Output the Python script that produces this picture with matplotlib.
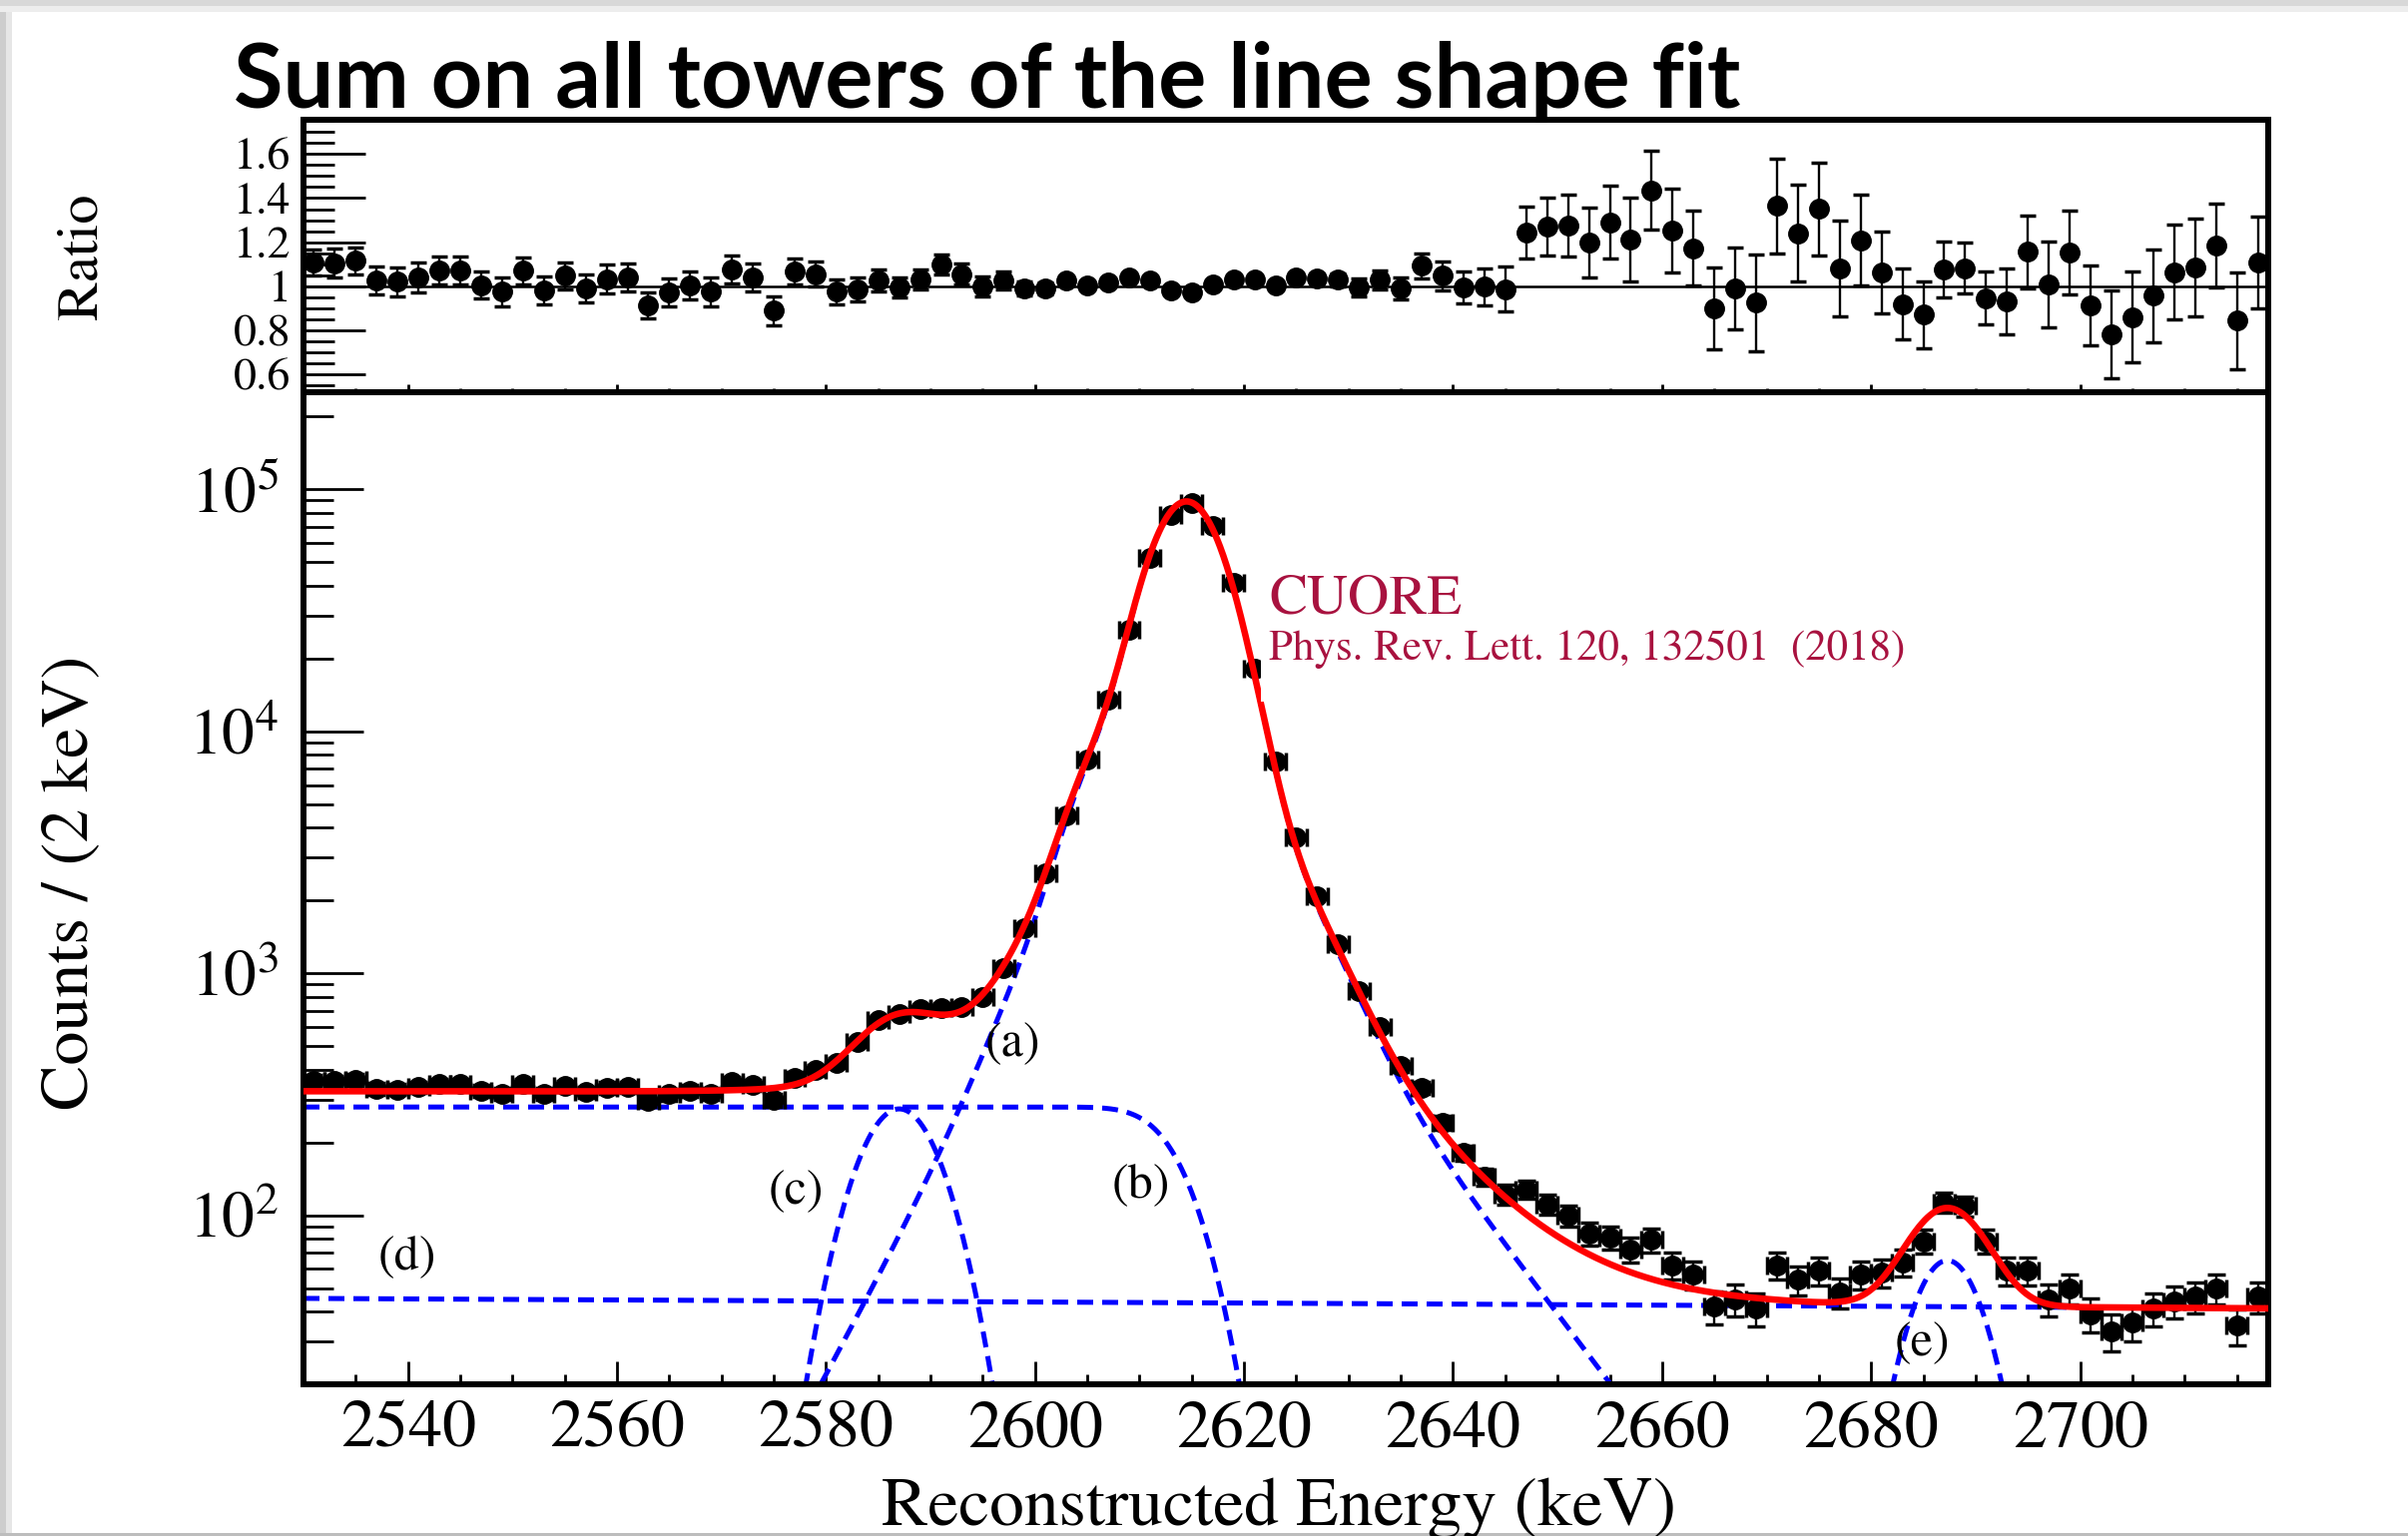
import math
import numpy as np
import matplotlib
matplotlib.use('Agg')
import matplotlib.pyplot as plt
from matplotlib.patches import Rectangle
from matplotlib.ticker import (FixedLocator, FixedFormatter, MultipleLocator,
                               LogLocator, FuncFormatter, NullFormatter)

plt.rcParams['font.family'] = 'STIXGeneral'
plt.rcParams['mathtext.fontset'] = 'stix'

# 2 keV bins, 2530 - 2718 keV
e_lo, e_hi, bin_w = 2530, 2718, 2
energy = np.arange(e_lo + bin_w / 2, e_hi, bin_w)

counts = [360, 359, 363, 333, 331, 338, 348, 348, 327, 317,
          348, 318, 341, 322, 336, 338, 297, 316, 326, 318,
          354, 344, 299, 370, 398, 425, 518, 639, 678, 708,
          720, 725, 800, 1055, 1530, 2580, 4510, 7680, 13520, 26400,
          52300, 78000, 87500, 70800, 41000, 18200, 7520, 3660, 2075, 1320,
          842, 597, 412, 336, 242, 181, 144, 122, 128, 111,
          100, 84, 81, 72, 79, 62, 57, 42, 45, 41,
          62, 54, 59, 48, 57, 58, 64, 78, 113, 109,
          78, 59, 59, 45, 50, 39, 33, 36, 41, 44,
          46, 50, 35, 46]

ratio = [1.108, 1.105, 1.116, 1.026, 1.020, 1.040, 1.070, 1.070, 1.006, 0.976,
         1.070, 0.980, 1.048, 0.991, 1.033, 1.040, 0.913, 0.973, 1.003, 0.976,
         1.078, 1.040, 0.890, 1.066, 1.056, 0.976, 0.985, 1.026, 0.995, 1.033,
         1.100, 1.056, 1.000, 1.026, 0.991, 0.991, 1.026, 1.003, 1.018, 1.040,
         1.026, 0.980, 0.973, 1.010, 1.033, 1.030, 1.006, 1.040, 1.036, 1.030,
         0.995, 1.030, 0.991, 1.093, 1.048, 0.995, 0.998, 0.988, 1.244, 1.270,
         1.274, 1.198, 1.290, 1.213, 1.436, 1.254, 1.173, 0.900, 0.992, 0.925,
         1.364, 1.240, 1.352, 1.081, 1.209, 1.063, 0.920, 0.871, 1.075, 1.083,
         0.947, 0.932, 1.156, 1.008, 1.153, 0.913, 0.782, 0.860, 0.958, 1.063,
         1.086, 1.183, 0.845, 1.108]

ratio_err = [0.060, 0.065, 0.060, 0.063, 0.066, 0.066, 0.063, 0.063, 0.063, 0.066,
             0.061, 0.064, 0.062, 0.065, 0.065, 0.062, 0.060, 0.064, 0.064, 0.065,
             0.064, 0.062, 0.066, 0.059, 0.056, 0.056, 0.055, 0.049, 0.047, 0.045,
             0.045, 0.047, 0.045, 0.040, 0.033, 0.026, 0.020, 0.015, 0.012, 0.010,
             0.008, 0.007, 0.007, 0.007, 0.008, 0.010, 0.013, 0.018, 0.024, 0.030,
             0.041, 0.042, 0.051, 0.057, 0.065, 0.072, 0.085, 0.100, 0.117, 0.130,
             0.140, 0.160, 0.165, 0.190, 0.180, 0.190, 0.170, 0.185, 0.185, 0.220,
             0.215, 0.220, 0.210, 0.215, 0.205, 0.185, 0.160, 0.150, 0.126, 0.116,
             0.120, 0.148, 0.165, 0.196, 0.190, 0.180, 0.200, 0.206, 0.210, 0.215,
             0.223, 0.190, 0.220, 0.210]

# fit parameters
# (a) 2615 line: core + wide gaussian + left satellite + exponential tails
peak_mu, peak_sig, peak_amp = 2614.5, 3.35, 84000.
wide_sig, wide_amp = 7.07, 4880.
sat_mu, sat_sig, sat_amp = 2605.4, 2.5, 2000.
tailR_amp, tailR_len, tailR_on = 4172., 7.6, 6.0
tailL_amp, tailL_len, tailL_on = 13060., 5.4, 7.0
tail_w = 1.2
# (b) multi-scatter step
step_amp, step_mu, step_sig = 280., 2614.5, 3.45
# (c) bump on the shoulder
c_mu, c_sig, c_amp = 2587.0, 3.9, 275.
# (d) linear background
d_p0, d_p1 = 45.3, -0.0218
# (e) coincidence peak
e_mu, e_sig, e_amp = 2687.3, 3.4, 65.

erfc = np.vectorize(math.erfc)


def gaus(x, mu, sig, amp):
    return amp * np.exp(-0.5 * ((x - mu) / sig) ** 2)


def logistic(z):
    return 1.0 / (1.0 + np.exp(-z))


def comp_a(x):
    t = x - peak_mu
    core = (gaus(x, peak_mu, peak_sig, peak_amp) + gaus(x, peak_mu, wide_sig, wide_amp)
            + gaus(x, sat_mu, sat_sig, sat_amp))
    right = tailR_amp * np.exp(-t / tailR_len) * logistic((t - tailR_on) / tail_w)
    left = tailL_amp * np.exp(t / tailL_len) * logistic((-t - tailL_on) / tail_w)
    return core + right + left


def comp_b(x):
    return step_amp * 0.5 * erfc((x - step_mu) / (math.sqrt(2) * step_sig))


def comp_c(x):
    return gaus(x, c_mu, c_sig, c_amp)


def comp_d(x):
    return d_p0 + d_p1 * (x - e_lo)


def comp_e(x):
    return gaus(x, e_mu, e_sig, e_amp)


xs = np.linspace(e_lo, e_hi, 3000)
parts = [comp_a(xs), comp_b(xs), comp_c(xs), comp_d(xs), comp_e(xs)]
total = sum(parts)

W, H = 2412, 1539
fig = plt.figure(figsize=(W / 100, H / 100), dpi=100)

# light frame around the slide
fig.add_artist(Rectangle((0, 1 - 6 / H), 1, 6 / H, transform=fig.transFigure,
                         facecolor='#d8d8d8', edgecolor='none'))
fig.add_artist(Rectangle((0, 1 - 12 / H), 1, 6 / H, transform=fig.transFigure,
                         facecolor='#ededed', edgecolor='none'))
fig.add_artist(Rectangle((0, 0), 6 / W, 1 - 12 / H, transform=fig.transFigure,
                         facecolor='#cdcdcd', edgecolor='none'))
fig.add_artist(Rectangle((6 / W, 0), 6 / W, 1 - 12 / H, transform=fig.transFigure,
                         facecolor='#e6e6e6', edgecolor='none'))
fig.add_artist(Rectangle((0, 0), 1, 3 / H, transform=fig.transFigure,
                         facecolor='#bdbdbd', edgecolor='none'))

left, width = 304 / W, 1968 / W
ax_r = fig.add_axes([left, 1 - 393 / H, width, 273 / H])
ax = fig.add_axes([left, 1 - 1387 / H, width, 994 / H])

blue_ls = (0, (3.2, 1.8))
for p in parts:
    ax.plot(xs, np.maximum(p, 1e-3), color='#0000ff', lw=3.6, ls=blue_ls, zorder=2)

ax.errorbar(energy, counts, xerr=bin_w / 2, yerr=np.sqrt(counts), fmt='o',
            color='black', ms=14, elinewidth=1.7, capsize=6.5, capthick=2.5, zorder=3)
ax.plot(xs, total, color='#ff0000', lw=4.7, zorder=4)

# reference label on a white patch
ax.add_patch(Rectangle((2621.6, 13200), 2684 - 2621.6, 51600 - 13200,
                       facecolor='white', edgecolor='none', zorder=5))
cuore_red = '#a8123f'
ax.text(2622.4, 30700, 'CUORE', color=cuore_red, fontsize=41, va='baseline', zorder=6)
ax.text(2622.4, 19680, 'Phys. Rev. Lett. 120, 132501  (2018)', color=cuore_red,
        fontsize=31, va='baseline', zorder=6)

labels = [('(a)', 2597.9, 508), ('(b)', 2610.1, 132), ('(c)', 2577.1, 125),
          ('(d)', 2539.9, 66.7), ('(e)', 2684.9, 29.4)]
for txt, lx, ly in labels:
    ax.text(lx, ly, txt, fontsize=36, ha='center', va='center', zorder=6)

ax.set_xlim(e_lo, e_hi)
ax.set_yscale('log')
ax.set_ylim(20, 2.52e5)
ax.xaxis.set_major_locator(MultipleLocator(20))
ax.xaxis.set_minor_locator(MultipleLocator(5))
ax.yaxis.set_major_locator(LogLocator(base=10, numticks=10))
ax.yaxis.set_minor_locator(LogLocator(base=10, subs=np.arange(2, 10), numticks=20))
ax.yaxis.set_major_formatter(FuncFormatter(lambda v, p: r'$10^{%d}$' % round(np.log10(v))))
ax.yaxis.set_minor_formatter(NullFormatter())
ax.tick_params(which='both', direction='in', top=False, right=False, width=2)
ax.tick_params(axis='y', which='major', length=43, labelsize=47, pad=18)
ax.tick_params(axis='y', which='minor', length=21.5)
ax.tick_params(axis='x', which='major', length=16.5, labelsize=49, pad=12)
ax.tick_params(axis='x', which='minor', length=7)

# ratio panel
ax_r.axhline(1.0, color='black', lw=1.8, zorder=1)
ax_r.errorbar(energy, ratio, yerr=ratio_err, fmt='o', color='black', ms=14,
              elinewidth=1.7, capsize=5.5, capthick=2.5, zorder=3)
ax_r.set_xlim(e_lo, e_hi)
ax_r.set_ylim(0.52, 1.755)
ax_r.yaxis.set_major_locator(FixedLocator([0.6, 0.8, 1.0, 1.2, 1.4, 1.6]))
ax_r.yaxis.set_major_formatter(FixedFormatter(['0.6', '0.8', '1', '1.2', '1.4', '1.6']))
ax_r.yaxis.set_minor_locator(MultipleLocator(0.05))
ax_r.xaxis.set_major_locator(MultipleLocator(20))
ax_r.xaxis.set_minor_locator(MultipleLocator(5))
ax_r.tick_params(which='both', direction='in', top=False, right=False, width=2,
                 labelbottom=False)
ax_r.tick_params(axis='y', which='major', length=44.5, labelsize=33, pad=9)
ax_r.tick_params(axis='y', which='minor', length=22)
ax_r.tick_params(axis='x', which='major', length=6)
ax_r.tick_params(axis='x', which='minor', length=3)

for a in (ax, ax_r):
    for s in a.spines.values():
        s.set_linewidth(4.3)

fig.text(234 / W, 1 - 108 / H, 'Sum on all towers of the line shape fit',
         fontsize=65, family='Lato', weight='bold', ha='left', va='baseline')
fig.text(72 / W, 1 - 884 / H, 'Counts / (2 keV)', fontsize=49, rotation=90,
         ha='center', va='center')
fig.text(83 / W, 1 - 257 / H, 'Ratio', fontsize=42, rotation=90,
         ha='center', va='center')
fig.text(1281 / W, 1 - 1528 / H, 'Reconstructed Energy (keV)', fontsize=50,
         ha='center', va='baseline')

fig.savefig('out.png', dpi=100)
